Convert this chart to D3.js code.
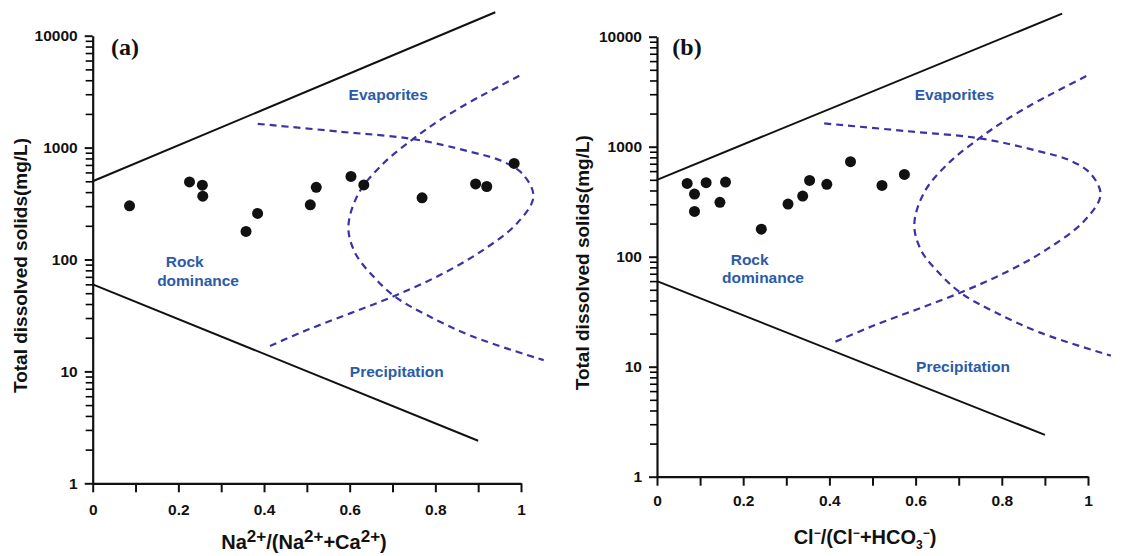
<!DOCTYPE html>
<html>
<head>
<meta charset="utf-8">
<script src="https://cdn.jsdelivr.net/npm/d3@7"></script>
<style>
  body { margin: 0; background: #fff; }
  svg { display: block; font-family: "Liberation Sans", Arial, sans-serif; }
</style>
</head>
<body>
<div id="chart"></div>
<script>
// axis ticks
const xMajorTicks = [0, 0.2, 0.4, 0.6, 0.8, 1];
const xMinorTicks = [0.1, 0.3, 0.5, 0.7, 0.9];
const yTicks = [1, 10, 100, 1000, 10000];

// samples, panel (a): Na/(Na+Ca) vs TDS
const naRatio = [0.086, 0.226, 0.256, 0.257, 0.358, 0.385, 0.508, 0.522, 0.603, 0.633, 0.769, 0.894, 0.92, 0.984];
const tdsA = [302, 493, 461, 368, 178, 258, 308, 442, 553, 464, 356, 474, 449, 722];

// samples, panel (b): Cl/(Cl+HCO3) vs TDS
const clRatio = [0.070, 0.087, 0.087, 0.114, 0.146, 0.159, 0.242, 0.304, 0.338, 0.354, 0.394, 0.449, 0.522, 0.574];
const tdsB = [464, 371, 258, 471, 312, 477, 178, 301, 356, 494, 455, 731, 445, 560];

// Gibbs boundary lines
const upperX = [0, 0.94];
const upperY = [500, 16200];
const lowerX = [0, 0.9];
const lowerY = [60, 2.4];

// dashed boomerang curves
const curve1X = [0.414, 0.500, 0.601, 0.706, 0.811, 0.905, 0.991, 1.029, 1.006, 0.959, 0.882, 0.749, 0.578, 0.379];
const curve1Y = [16.9, 23.4, 33, 47.5, 72.7, 117, 211, 364, 569, 748, 918, 1190, 1387, 1640];
const curve2X = [0.996, 0.925, 0.889, 0.811, 0.749, 0.679, 0.621, 0.597, 0.613, 0.656, 0.706, 0.780, 0.889, 1.053];
const curve2Y = [4385, 3155, 2663, 1765, 1200, 724, 391, 196, 114, 70, 46.5, 31.9, 20.4, 12.6];

const width = 1137, height = 556;
const blue = "#2b5ba8";

const svg = d3.select("#chart").append("svg")
    .attr("width", width)
    .attr("height", height);

const panels = [
    { left: 92.7, right: 521, top: 35.7, bottom: 483.3, xs: naRatio, ys: tdsA, tag: "(a)", tagX: 125,
      labelPad: 11.5, titleY: 549, titleX: 304, yTitleX: 27, axis: "na" },
    { left: 657, right: 1088, top: 36.7, bottom: 476.7, xs: clRatio, ys: tdsB, tag: "(b)", tagX: 687,
      labelPad: 9, titleY: 544, titleX: 865, yTitleX: 589, axis: "cl" }
];

const yMinor = [];
for (let p = 0; p < 4; p++) {
    for (let m = 2; m <= 9; m++) yMinor.push(m * Math.pow(10, p));
}

panels.forEach(p => {
    const x = d3.scaleLinear().domain([0, 1]).range([p.left, p.right]);
    const y = d3.scaleLog().domain([1, 10000]).range([p.bottom, p.top]);
    const g = svg.append("g");

    // x axis
    const xAxis = g.append("g")
        .attr("transform", `translate(0,${p.bottom})`)
        .call(d3.axisBottom(x)
            .tickValues(xMajorTicks.concat(xMinorTicks))
            .tickSize(9).tickSizeOuter(0).tickPadding(p.labelPad)
            .tickFormat(d => xMajorTicks.includes(d) ? String(d) : ""));

    // y axis with minor ticks
    const yAxis = g.append("g")
        .attr("transform", `translate(${p.left},0)`)
        .call(d3.axisLeft(y)
            .tickValues(yTicks)
            .tickSize(8).tickSizeOuter(0).tickPadding(7)
            .tickFormat(d3.format("d")));
    g.append("g")
        .attr("transform", `translate(${p.left},0)`)
        .call(d3.axisLeft(y).tickValues(yMinor).tickSize(7).tickFormat(""))
        .call(a => a.select(".domain").remove())
        .selectAll("line").attr("stroke-width", 1.6);

    [xAxis, yAxis].forEach(a => {
        a.select(".domain").attr("stroke", "#111").attr("stroke-width", 2.2);
        a.selectAll(".tick line").attr("stroke", "#111").attr("stroke-width", 2);
        a.selectAll(".tick text")
            .attr("fill", "#111")
            .style("font-size", "15.5px")
            .style("font-weight", "bold");
    });

    const line = d3.line().x(d => x(d[0])).y(d => y(d[1]));
    const smooth = d3.line().x(d => x(d[0])).y(d => y(d[1])).curve(d3.curveCatmullRom.alpha(0.5));

    // solid boundary lines
    [[upperX, upperY], [lowerX, lowerY]].forEach(([lx, ly]) => {
        g.append("path")
            .datum(lx.map((v, i) => [v, ly[i]]))
            .attr("d", line)
            .attr("fill", "none")
            .attr("stroke", "#111")
            .attr("stroke-width", 2);
    });

    // dashed curves
    [[curve1X, curve1Y], [curve2X, curve2Y]].forEach(([cx, cy]) => {
        g.append("path")
            .datum(cx.map((v, i) => [v, cy[i]]))
            .attr("d", smooth)
            .attr("fill", "none")
            .attr("stroke", "#3a33a3")
            .attr("stroke-width", 2.2)
            .attr("stroke-dasharray", "7,5");
    });

    // sample points
    g.append("g").selectAll("circle")
        .data(p.xs.map((v, i) => [v, p.ys[i]]))
        .join("circle")
        .attr("cx", d => x(d[0]))
        .attr("cy", d => y(d[1]))
        .attr("r", 5.5)
        .attr("fill", "#111");

    // region labels
    const labels = [
        ["Evaporites", 0.69, 2950],
        ["Rock", 0.215, 95],
        ["dominance", 0.246, 65],
        ["Precipitation", 0.71, 10]
    ];
    g.selectAll(".region")
        .data(labels)
        .join("text")
        .attr("x", d => x(d[1]))
        .attr("y", d => y(d[2]))
        .attr("dy", "0.35em")
        .attr("text-anchor", "middle")
        .attr("fill", blue)
        .style("font-size", "15.5px")
        .style("font-weight", "bold")
        .text(d => d[0]);

    // panel tag
    g.append("text")
        .attr("x", p.tagX)
        .attr("y", 47)
        .attr("dy", "0.35em")
        .attr("text-anchor", "middle")
        .style("font-family", "'Liberation Serif', 'Times New Roman', serif")
        .style("font-size", "24px")
        .style("font-weight", "bold")
        .attr("fill", "#111")
        .text(p.tag);

    // y title
    g.append("text")
        .attr("transform", `translate(${p.yTitleX},${(p.top + p.bottom) / 2 + 6}) rotate(-90)`)
        .attr("text-anchor", "middle")
        .style("font-size", "19px")
        .style("font-weight", "bold")
        .attr("fill", "#111")
        .text("Total dissolved solids(mg/L)");

    // x title with super/subscripts
    const t = g.append("text")
        .attr("x", p.titleX)
        .attr("y", p.titleY)
        .attr("text-anchor", "middle")
        .style("font-size", "20px")
        .style("font-weight", "bold")
        .attr("fill", "#111");
    const parts = p.axis === "na"
        ? [["Na"], ["2+", "sup"], ["/(Na"], ["2+", "sup"], ["+Ca"], ["2+", "sup"], [")"]]
        : [["Cl"], ["\u2212", "sup"], ["/(Cl"], ["\u2212", "sup"], ["+HCO"], ["3", "sub"], ["\u2212", "sup"], [")"]];
    let shift = 0;
    parts.forEach(([txt, kind]) => {
        const target = kind === "sup" ? -7 : kind === "sub" ? 5 : 0;
        t.append("tspan")
            .attr("dy", target - shift)
            .style("font-size", kind ? (p.axis === "na" ? "17px" : "12px") : null)
            .text(txt);
        shift = target;
    });
});
</script>
</body>
</html>
